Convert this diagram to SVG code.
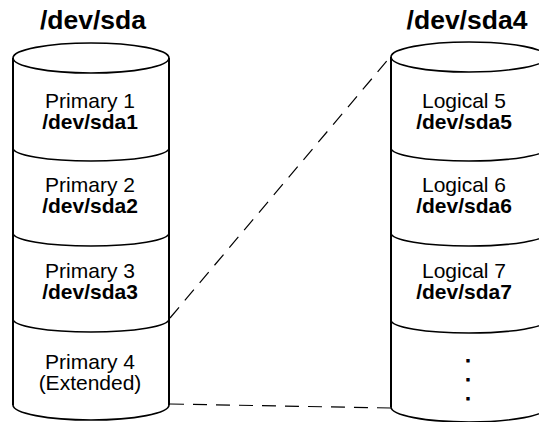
<svg xmlns="http://www.w3.org/2000/svg" width="539" height="422" viewBox="0 0 539 422">
  <style>
    .shape { fill: none; stroke: #000; stroke-width: 1.6; }
    .side { fill: none; stroke: #000; stroke-width: 2; }
    .link { fill: none; stroke: #000; stroke-width: 1.2; stroke-dasharray: 14 9; }
    .head { font-family: "Liberation Sans", Arial, sans-serif; font-weight: bold; font-size: 26.5px; text-anchor: middle; }
    .lbl { font-family: "Liberation Sans", Arial, sans-serif; font-size: 21px; text-anchor: middle; }
    .dev { font-weight: bold; }
    .dot { font-family: "Liberation Sans", Arial, sans-serif; font-weight: bold; font-size: 16px; text-anchor: middle; stroke: #000; stroke-width: 1; }
  </style>
  <rect width="539" height="422" fill="#fff"/>

  <!-- whole disk -->
  <g id="disk-sda">
    <text class="head" x="93" y="29">/dev/sda</text>
    <ellipse class="shape" cx="91" cy="58" rx="78" ry="15"/>
    <line class="side" x1="13" y1="58" x2="13" y2="405"/>
    <line class="side" x1="169" y1="58" x2="169" y2="405"/>
    <path class="shape" d="M13,148 A78,13 0 0,0 169,148"/>
    <path class="shape" d="M13,233 A78,13 0 0,0 169,233"/>
    <path class="shape" d="M13,319 A78,13 0 0,0 169,319"/>
    <path class="shape" d="M13,405 A78,15 0 0,0 169,405"/>
  </g>
  <g id="sda1">
    <text class="lbl"><tspan x="90" y="108">Primary 1</tspan><tspan class="dev" x="90" y="129">/dev/sda1</tspan></text>
  </g>
  <g id="sda2">
    <text class="lbl"><tspan x="90" y="192">Primary 2</tspan><tspan class="dev" x="90" y="213">/dev/sda2</tspan></text>
  </g>
  <g id="sda3">
    <text class="lbl"><tspan x="90" y="278">Primary 3</tspan><tspan class="dev" x="90" y="299">/dev/sda3</tspan></text>
  </g>
  <g id="sda4">
    <text class="lbl"><tspan x="90" y="369">Primary 4</tspan><tspan x="90" y="390">(Extended)</tspan></text>
  </g>

  <!-- extended partition -->
  <g id="disk-sda4">
    <text class="head" x="467" y="29">/dev/sda4</text>
    <ellipse class="shape" cx="469" cy="57" rx="78" ry="15"/>
    <line class="side" x1="391" y1="57" x2="391" y2="407"/>
    <line class="side" x1="547" y1="57" x2="547" y2="407"/>
    <path class="shape" d="M391,148 A78,13 0 0,0 547,148"/>
    <path class="shape" d="M391,233 A78,13 0 0,0 547,233"/>
    <path class="shape" d="M391,320 A78,13 0 0,0 547,320"/>
    <path class="shape" d="M391,407 A78,15 0 0,0 547,407"/>
  </g>
  <g id="sda5">
    <text class="lbl"><tspan x="464" y="108">Logical 5</tspan><tspan class="dev" x="464" y="129">/dev/sda5</tspan></text>
  </g>
  <g id="sda6">
    <text class="lbl"><tspan x="464" y="192">Logical 6</tspan><tspan class="dev" x="464" y="213">/dev/sda6</tspan></text>
  </g>
  <g id="sda7">
    <text class="lbl"><tspan x="464" y="278">Logical 7</tspan><tspan class="dev" x="464" y="299">/dev/sda7</tspan></text>
  </g>
  <g id="more">
    <text class="dot" x="468" y="362">.</text>
    <text class="dot" x="468" y="381">.</text>
    <text class="dot" x="468" y="400">.</text>
  </g>

  <!-- projection of the extended partition -->
  <g id="connectors">
    <line class="link" x1="170" y1="318" x2="391" y2="56"/>
    <line class="link" x1="170" y1="404" x2="391" y2="408"/>
  </g>
</svg>
